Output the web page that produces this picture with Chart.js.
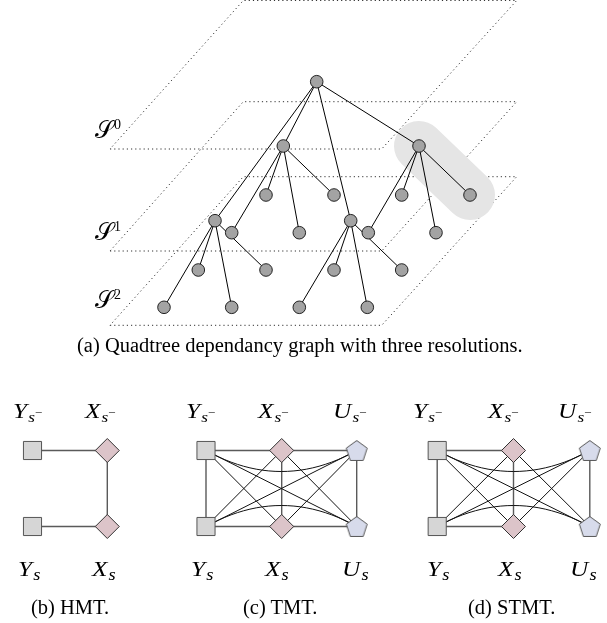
<!DOCTYPE html>
<html lang="en">
<head>
<meta charset="UTF-8">
<script src="https://cdn.jsdelivr.net/npm/chart.js"></script>
<title>Quadtree dependency graphs</title>
<style>
  body { margin: 0; background: #fff; }
  #wrap { position: relative; width: 607px; height: 623px; }
  #wrap canvas { position: absolute; left: 0; top: 0; }
  .lbl { position: absolute; font-family: "Liberation Serif", serif; line-height: 1; white-space: nowrap; color: #000; }
  .m { font-size: 22px; transform: scaleX(1.15); transform-origin: 0 0; }
  .m i { font-style: italic; }
  .sb { font-size: 15px; vertical-align: -4px; font-style: italic; margin-left: 1px; }
  .sp { font-size: 11.5px; vertical-align: 6px; font-style: normal; }
  .low .sb { font-size: 16px; }
  .cap { font-size: 20.5px; }
  .lev { font-size: 24px; font-family: "DejaVu Serif", "Liberation Serif", serif; }
  .lev sup { font-size: 14px; vertical-align: 9px; font-family: "Liberation Serif", serif; }
</style>
</head>
<body>
<div id="wrap">
  <canvas id="graph" width="607" height="623"></canvas>

  <div class="lbl lev" style="left:95px; top:118px">𝒮<sup>0</sup></div>
  <div class="lbl lev" style="left:95px; top:220px">𝒮<sup>1</sup></div>
  <div class="lbl lev" style="left:95px; top:288px">𝒮<sup>2</sup></div>
  <div class="lbl cap" style="left:77px; top:335px">(a) Quadtree dependancy graph with three resolutions.</div>

  <div class="lbl m" style="left:13px; top:400px"><i>Y</i><span class="sb">s<span class="sp">−</span></span></div>
  <div class="lbl m" style="left:85px; top:400px"><i>X</i><span class="sb">s<span class="sp">−</span></span></div>
  <div class="lbl m" style="left:186px; top:400px"><i>Y</i><span class="sb">s<span class="sp">−</span></span></div>
  <div class="lbl m" style="left:258px; top:400px"><i>X</i><span class="sb">s<span class="sp">−</span></span></div>
  <div class="lbl m" style="left:333px; top:400px"><i>U</i><span class="sb">s<span class="sp">−</span></span></div>
  <div class="lbl m" style="left:413px; top:400px"><i>Y</i><span class="sb">s<span class="sp">−</span></span></div>
  <div class="lbl m" style="left:488px; top:400px"><i>X</i><span class="sb">s<span class="sp">−</span></span></div>
  <div class="lbl m" style="left:558px; top:400px"><i>U</i><span class="sb">s<span class="sp">−</span></span></div>

  <div class="lbl m low" style="left:18px; top:558px"><i>Y</i><span class="sb">s</span></div>
  <div class="lbl m low" style="left:92px; top:558px"><i>X</i><span class="sb">s</span></div>
  <div class="lbl m low" style="left:191px; top:558px"><i>Y</i><span class="sb">s</span></div>
  <div class="lbl m low" style="left:265px; top:558px"><i>X</i><span class="sb">s</span></div>
  <div class="lbl m low" style="left:342px; top:558px"><i>U</i><span class="sb">s</span></div>
  <div class="lbl m low" style="left:427px; top:558px"><i>Y</i><span class="sb">s</span></div>
  <div class="lbl m low" style="left:498px; top:558px"><i>X</i><span class="sb">s</span></div>
  <div class="lbl m low" style="left:570px; top:558px"><i>U</i><span class="sb">s</span></div>

  <div class="lbl cap" style="left:31px; top:597px">(b) HMT.</div>
  <div class="lbl cap" style="left:243px; top:597px">(c) TMT.</div>
  <div class="lbl cap" style="left:468px; top:597px">(d) STMT.</div>
</div>

<script>
// ---- quadtree (a) ----
const treeRoot = { x: 316.7, y: 81.7 };
const treeLevel1 = [
  { x: 283.3, y: 146 }, { x: 419, y: 146 },
  { x: 215, y: 220.7 }, { x: 350.7, y: 220.7 }
];
const treeLevel2 = [
  [{ x: 266, y: 195 }, { x: 334, y: 195 }, { x: 231.7, y: 232.7 }, { x: 299.3, y: 232.7 }],
  [{ x: 401.7, y: 195 }, { x: 470, y: 195 }, { x: 368.3, y: 232.7 }, { x: 436, y: 232.7 }],
  [{ x: 198.3, y: 270 }, { x: 266, y: 270 }, { x: 164, y: 307.3 }, { x: 231.7, y: 307.3 }],
  [{ x: 334, y: 270 }, { x: 401.7, y: 270 }, { x: 299.3, y: 307.3 }, { x: 367.3, y: 307.3 }]
];
const highlightPath = [1, 1];   // level-1 node 1 and its child 1

// resolution planes: top edge y, corners shared
const planeTops = [0.5, 101.7, 176.7];
const planeBottoms = [149, 251, 325.3];
const planeLeftX = [243.3, 110];      // top-left, bottom-left
const planeRightX = [516.7, 381.7];   // top-right, bottom-right

// ---- small graphs (b) (c) (d) ----
const rowY = { t: 450.5, b: 526.5 };  // s- row, s row
const hmtCols = { Y: 32.5, X: 107.3 };
const tmtCols = { Y: 206, X: 281.7, U: 356.7 };
const stmtCols = { Y: 437.2, X: 513.5, U: 589.8 };

// edge: [from, to, bend]  bend 0 straight, +1 sags down, -1 bows up
const hmtEdges = [['Yt', 'Xt', 0], ['Xt', 'Xb', 0], ['Yb', 'Xb', 0]];
const tmtEdges = [
  ['Yt', 'Yb', 0], ['Yt', 'Xt', 0], ['Xt', 'Ut', 0], ['Ut', 'Ub', 0], ['Xt', 'Xb', 0],
  ['Yb', 'Xb', 0], ['Xb', 'Ub', 0],
  ['Yt', 'Xb', 0], ['Yt', 'Ub', 0], ['Yb', 'Xt', 0], ['Yb', 'Ut', 0],
  ['Xt', 'Ub', 0], ['Xb', 'Ut', 0],
  ['Yt', 'Ut', 1], ['Yb', 'Ub', -1]
];
const stmtEdges = [
  ['Yt', 'Yb', 0], ['Yt', 'Xt', 0], ['Ut', 'Ub', 0], ['Xt', 'Xb', 0], ['Yb', 'Xb', 0],
  ['Yt', 'Xb', 0], ['Yt', 'Ub', 0], ['Yb', 'Xt', 0], ['Yb', 'Ut', 0],
  ['Xt', 'Ub', 0], ['Xb', 'Ut', 0],
  ['Yt', 'Ut', 1], ['Yb', 'Ub', -1]
];

const BEND = 42;
const GAP = { x: null, y: null };

function node(cols, id) {
  return { x: cols[id[0]], y: rowY[id[1]] };
}

function curve(a, b, bend) {
  const cx = (a.x + b.x) / 2, cy = (a.y + b.y) / 2 + bend * BEND;
  const pts = [];
  for (let i = 0; i <= 24; i++) {
    const t = i / 24, u = 1 - t;
    pts.push({ x: u * u * a.x + 2 * u * t * cx + t * t * b.x,
               y: u * u * a.y + 2 * u * t * cy + t * t * b.y });
  }
  return pts;
}

function joinSegments(list) {
  const out = [];
  list.forEach((s, i) => { if (i) out.push(GAP); out.push(...s); });
  return out;
}

function lineSet(data, color, width, extra) {
  return Object.assign({
    type: 'scatter', data, showLine: true, borderColor: color, borderWidth: width,
    pointRadius: 0, pointHoverRadius: 0, fill: false, tension: 0, clip: false, order: 5
  }, extra || {});
}

function pointSet(data, style, radius, fill, stroke, width) {
  return {
    type: 'scatter', data, showLine: false, pointStyle: style, pointRadius: radius,
    pointHoverRadius: radius, backgroundColor: fill, borderColor: stroke,
    borderWidth: width, pointBorderWidth: width, clip: false, order: 0
  };
}

function pentagonImage(R, fill, stroke) {
  const pad = 1.5;
  const w = Math.ceil(2 * R * Math.sin(2 * Math.PI / 5) + 2 * pad);
  const hh = R * (1 + Math.cos(Math.PI / 5));
  const h = Math.ceil(hh + 2 * pad);
  const c = document.createElement('canvas');
  c.width = w; c.height = h;
  const ctx = c.getContext('2d');
  const cx = w / 2, cy = (h - hh) / 2 + R;
  ctx.beginPath();
  for (let k = 0; k < 5; k++) {
    const a = -Math.PI / 2 + k * 2 * Math.PI / 5;
    ctx.lineTo(cx + R * Math.cos(a), cy + R * Math.sin(a));
  }
  ctx.closePath();
  ctx.fillStyle = fill; ctx.fill();
  ctx.lineWidth = 1; ctx.strokeStyle = stroke; ctx.stroke();
  return c;
}

// planes
const planeSegs = [];
planeTops.forEach((top, i) => {
  const bot = planeBottoms[i];
  planeSegs.push([
    { x: planeLeftX[1], y: bot }, { x: planeRightX[1], y: bot },
    { x: planeRightX[0], y: top }, { x: planeLeftX[0], y: top },
    { x: planeLeftX[1], y: bot }
  ]);
});

// tree edges
const treeSegs = [];
treeLevel1.forEach((p, i) => {
  treeSegs.push([treeRoot, p]);
  treeLevel2[i].forEach(c => treeSegs.push([p, c]));
});
const treeNodes = [treeRoot, ...treeLevel1, ...treeLevel2.flat()];
const hlA = treeLevel1[highlightPath[0]];
const hlB = treeLevel2[highlightPath[0]][highlightPath[1]];

// small graphs
const greySegs = [], blackSegs = [];
[[hmtCols, hmtEdges], [tmtCols, tmtEdges], [stmtCols, stmtEdges]].forEach(([cols, edges]) => {
  edges.forEach(([f, t, bend]) => {
    const a = node(cols, f), b = node(cols, t);
    if (bend) blackSegs.push(curve(a, b, bend));
    else if (a.x === b.x || a.y === b.y) greySegs.push([a, b]);
    else blackSegs.push([a, b]);
  });
});
const squares = [hmtCols, tmtCols, stmtCols].flatMap(c => [node(c, 'Yt'), node(c, 'Yb')]);
const diamonds = [hmtCols, tmtCols, stmtCols].flatMap(c => [node(c, 'Xt'), node(c, 'Xb')]);
const pentagons = [tmtCols, stmtCols].flatMap(c => [node(c, 'Ut'), node(c, 'Ub')]);

new Chart(document.getElementById('graph'), {
  type: 'scatter',
  data: {
    datasets: [
      pointSet(treeNodes, 'circle', 6.3, '#a3a3a3', '#111', 0.9),
      pointSet(squares, 'rect', 12.8, '#d6d6d6', '#555', 1),
      pointSet(diamonds, 'rectRot', 12, '#dcc4c9', '#333', 1),
      pointSet(pentagons, pentagonImage(11, '#d7dbeb', '#555'), 11, '#d7dbeb', '#555', 1),
      lineSet(joinSegments(treeSegs), '#000', 1, { order: 3 }),
      lineSet(joinSegments(greySegs), '#5a5a5a', 1.4, { order: 4 }),
      lineSet(joinSegments(blackSegs), '#111', 1, { order: 3 }),
      lineSet([hlA, hlB], '#e5e5e5', 50, { borderCapStyle: 'round', order: 6 }),
      lineSet(joinSegments(planeSegs), '#333', 1, { borderDash: [1.2, 3], order: 7 })
    ]
  },
  options: {
    responsive: false,
    animation: false,
    events: [],
    layout: { padding: 0, autoPadding: false },
    plugins: { legend: { display: false }, tooltip: { enabled: false } },
    scales: {
      x: { type: 'linear', min: 0, max: 607, display: false },
      y: { type: 'linear', min: 0, max: 623, reverse: true, display: false }
    }
  }
});
</script>
</body>
</html>
